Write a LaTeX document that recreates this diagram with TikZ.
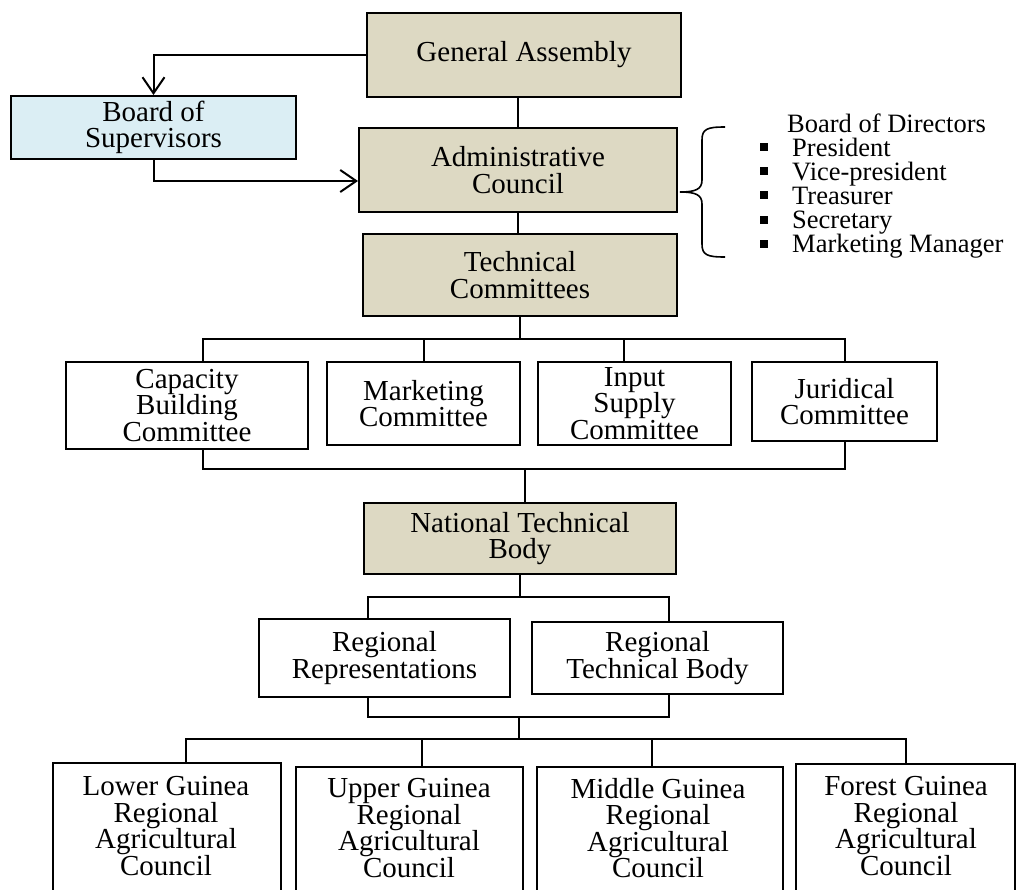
\documentclass[tikz,border=0pt]{standalone}
\usepackage{fontspec}
\setmainfont{Liberation Serif}
\usetikzlibrary{arrows.meta}
\definecolor{tanfill}{HTML}{DDD9C3}
\definecolor{bluefill}{HTML}{DBEEF4}
\newcommand\sqbullet{\makebox[32pt][l]{\raisebox{5pt}{\rule{8pt}{8pt}}}}
\newcommand\boxfont{\fontsize{29}{26.5}\selectfont\lineskiplimit=-40pt\relax}
\newcommand\listfont{\fontsize{26.5}{24}\selectfont}
\begin{document}
\begin{tikzpicture}[x=1pt,y=-1pt,
  box/.style={draw, line width=2pt, inner sep=0pt, align=center, font=\boxfont},
  txt/.style={inner sep=0pt, align=center, font=\boxfont},
  lst/.style={inner sep=0pt, anchor=base west, font=\listfont},
  conn/.style={line width=2pt},
  arr/.style={line width=2pt, -{Straight Barb[length=16pt,width=22pt]}}]
\useasboundingbox (0,0) rectangle (1017,889);
\clip (0,0) rectangle (1017,889);

% governing bodies
\node[box, fill=tanfill, minimum width=314pt, minimum height=84pt] (GA) at (524,55) {General Assembly};
\node[box, fill=bluefill, minimum width=285pt, minimum height=63pt] (BoS) at (153.5,127.5) {Board of\\Supervisors};
\node[box, fill=tanfill, minimum width=318pt, minimum height=84pt] (AC) at (518,170) {Administrative\\Council};
\node[box, fill=tanfill, minimum width=314pt, minimum height=82pt] (TC) at (520,275) {Technical\\Committees};

% committees
\node[box, minimum width=242pt, minimum height=87pt] (Cap) at (187,405.5) {Capacity\\Building\\Committee};
\node[box, minimum width=193pt, minimum height=83pt] (Mkt) at (423.5,403.5) {Marketing\\Committee};
\node[box, minimum width=193pt, minimum height=83pt] (Inp) at (634.5,403.5) {Input\\Supply\\Committee};
\node[box, minimum width=185pt, minimum height=79pt] (Jur) at (844.5,401.5) {Juridical\\Committee};

% technical bodies
\node[box, fill=tanfill, minimum width=312pt, minimum height=71pt] (NTB) at (520,538.5) {National Technical\\Body};
\node[box, minimum width=251pt, minimum height=78pt] (RR) at (384.5,658) {Regional\\Representations};
\node[box, minimum width=251pt, minimum height=72pt] (RTB) at (657.5,658) {Regional\\Technical Body};

% regional agricultural councils (run off the bottom edge)
\node[box, anchor=north, minimum width=228pt, minimum height=150pt] (LG) at (167,762) {};
\node[box, anchor=north, minimum width=227pt, minimum height=150pt] (UG) at (409.5,766) {};
\node[box, anchor=north, minimum width=246pt, minimum height=150pt] (MG) at (660,766) {};
\node[box, anchor=north, minimum width=219pt, minimum height=150pt] (FG) at (905.5,763) {};
\node[txt] (LGt) at (166,826) {Lower Guinea\\Regional\\Agricultural\\Council};
\node[txt] (UGt) at (409,828) {Upper Guinea\\Regional\\Agricultural\\Council};
\node[txt] (MGt) at (658,828) {Middle Guinea\\Regional\\Agricultural\\Council};
\node[txt] (FGt) at (906,826) {Forest Guinea\\Regional\\Agricultural\\Council};

% board of directors list
\node[lst] (dt) at (787,132) {Board of Directors};
\node[lst] (d1) at (760,156) {\sqbullet President};
\node[lst] (d2) at (760,180.2) {\sqbullet Vice-president};
\node[lst] (d3) at (760,204.4) {\sqbullet Treasurer};
\node[lst] (d4) at (760,228.6) {\sqbullet Secretary};
\node[lst] (d5) at (760,252.8) {\sqbullet Marketing Manager};

% brace grouping the directors with the council
\draw[line width=1.6pt] (725,127) .. controls (707,127) and (702,129) .. (702,140)
  -- (702,180) .. controls (702,189) and (696,192) .. (680,192)
  .. controls (696,192) and (702,195) .. (702,204)
  -- (702,244) .. controls (702,255) and (707,257) .. (725,257);

% top connectors
\draw[arr] (GA.west) -| (BoS.north);
\coordinate (bsy) at (0,181);
\draw[arr] (BoS.south) |- (AC.west |- bsy);
\draw[conn] (AC.north |- GA.south) -- (AC.north);
\draw[conn] (AC.south) -- (AC.south |- TC.north);

% committee buses
\coordinate (cb1) at (203,339);
\coordinate (cb2) at (845,339);
\coordinate (cd3) at (624,339);
\draw[conn] (TC.south) -- (TC.south |- cb1);
\draw[conn] (cb1 |- Cap.north) -- (cb1) -- (cb2) -- (cb2 |- Jur.north);
\draw[conn] (Mkt.north) -- (Mkt.north |- cb1);
\draw[conn] (cd3) -- (cd3 |- Inp.north);
\coordinate (cu1) at (203,469);
\coordinate (cu2) at (845,469);
\coordinate (cm) at (525,469);
\draw[conn] (cu1 |- Cap.south) -- (cu1) -- (cu2) -- (cu2 |- Jur.south);
\draw[conn] (cm) -- (cm |- NTB.north);

% regional buses
\coordinate (rb1) at (368,597);
\coordinate (rb2) at (669,597);
\draw[conn] (NTB.south) -- (NTB.south |- rb1);
\draw[conn] (rb1 |- RR.north) -- (rb1) -- (rb2) -- (rb2 |- RTB.north);
\coordinate (ru1) at (368,717);
\coordinate (ru2) at (669,717);
\coordinate (rm) at (519,717);
\draw[conn] (ru1 |- RR.south) -- (ru1) -- (ru2) -- (ru2 |- RTB.south);
\coordinate (gb1) at (186,739);
\coordinate (gb2) at (906,739);
\coordinate (gd2) at (422,739);
\coordinate (gd3) at (652,739);
\draw[conn] (rm) -- (rm |- gb1);
\draw[conn] (gb1 |- LG.north) -- (gb1) -- (gb2) -- (gb2 |- FG.north);
\draw[conn] (gd2) -- (gd2 |- UG.north);
\draw[conn] (gd3) -- (gd3 |- MG.north);
\end{tikzpicture}
\end{document}
